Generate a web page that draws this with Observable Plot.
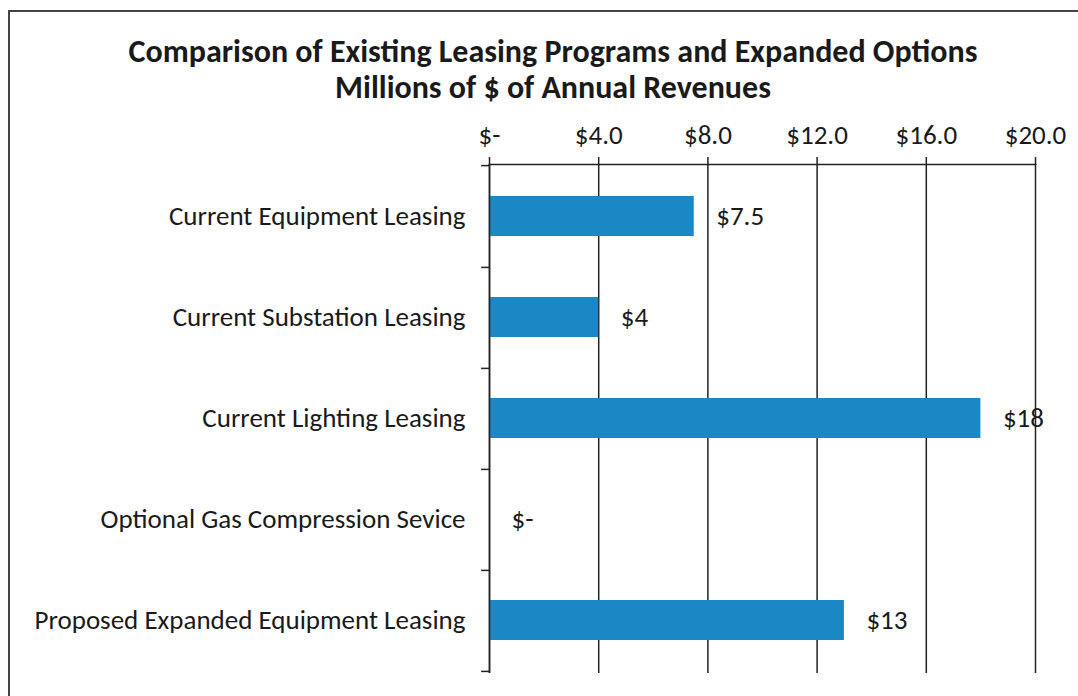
<!DOCTYPE html>
<html>
<head>
<meta charset="utf-8">
<script src="https://cdn.jsdelivr.net/npm/d3@7"></script>
<script src="https://cdn.jsdelivr.net/npm/@observablehq/plot@0.6"></script>
<style>
  html, body { margin: 0; padding: 0; background: #fff; }
  #wrap { position: relative; width: 1078px; height: 696px; overflow: hidden; font-family: Carlito, Calibri, Lato, sans-serif; color: #1a1a1a; }
  #frame { position: absolute; left: 8px; top: 10px; width: 1200px; height: 800px; border-top: 2px solid #444; border-left: 2px solid #444; }
  #title { position: absolute; top: 34px; left: 28px; width: 1050px; text-align: center; font-weight: bold; font-size: 32px; line-height: 36px; white-space: nowrap; }
  #chart { position: absolute; top: 105px; left: 0; }
</style>
</head>
<body>
<div id="wrap">
  <div id="frame"></div>
  <div id="title">Comparison of Existing Leasing Programs and Expanded Options<br>Millions of $ of Annual Revenues</div>
  <div id="chart"></div>
</div>
<script>
const categories = [
  "Current Equipment Leasing",
  "Current Substation Leasing",
  "Current Lighting Leasing",
  "Optional Gas Compression Sevice",
  "Proposed Expanded Equipment Leasing"
];
const values = [7.5, 4, 18, 0, 13];
const valueLabels = ["$7.5", "$4", "$18", "$-", "$13"];
const xTicks = [0, 4, 8, 12, 16, 20];
const xTickLabels = ["$-", "$4.0", "$8.0", "$12.0", "$16.0", "$20.0"];

const data = categories.map((c, i) => ({category: c, value: values[i], label: valueLabels[i]}));

const H = 591, mT = 59, mB = 23;
const step = (H - mT - mB) / categories.length;
const ink = "#222";
const font = "Carlito, Calibri, Lato, sans-serif";

const chart = Plot.plot({
  width: 1078,
  height: H,
  marginTop: mT,
  marginBottom: mB,
  marginLeft: 489,
  marginRight: 43,
  style: {fontFamily: font, fontSize: "27px", color: "#1a1a1a", background: "transparent"},
  x: {domain: [0, 20], axis: null},
  y: {domain: categories, paddingInner: 0.6, paddingOuter: 0.3, axis: null},
  marks: [
    Plot.ruleX(xTicks, {stroke: ink, strokeWidth: 1.5}),
    Plot.frame({anchor: "top", stroke: ink, strokeWidth: 1.5}),
    Plot.barX(data, {x: "value", y: "category", fill: "#1c87c5"}),
    Plot.ruleX([0], {stroke: ink, strokeWidth: 1.5}),
    Plot.ruleY([categories[0]], {y: d => d, x1: -0.29, x2: 0, dy: -step / 2, stroke: ink, strokeWidth: 1.5}),
    Plot.ruleY(categories, {y: d => d, x1: -0.29, x2: 0, dy: step / 2, stroke: ink, strokeWidth: 1.5}),
    Plot.axisX({anchor: "top", ticks: xTicks, tickFormat: d => xTickLabels[xTicks.indexOf(d)], tickSize: 8, tickPadding: 13, fontSize: 27, label: null, stroke: ink, strokeWidth: 1.5}),
    Plot.axisY({tickSize: 0, tickPadding: 24, fontSize: 27, label: null}),
    Plot.text(data, {x: "value", y: "category", text: "label", dx: 22, textAnchor: "start", fontSize: 27, fill: "#1a1a1a"})
  ]
});
document.getElementById("chart").appendChild(chart);
</script>
</body>
</html>
